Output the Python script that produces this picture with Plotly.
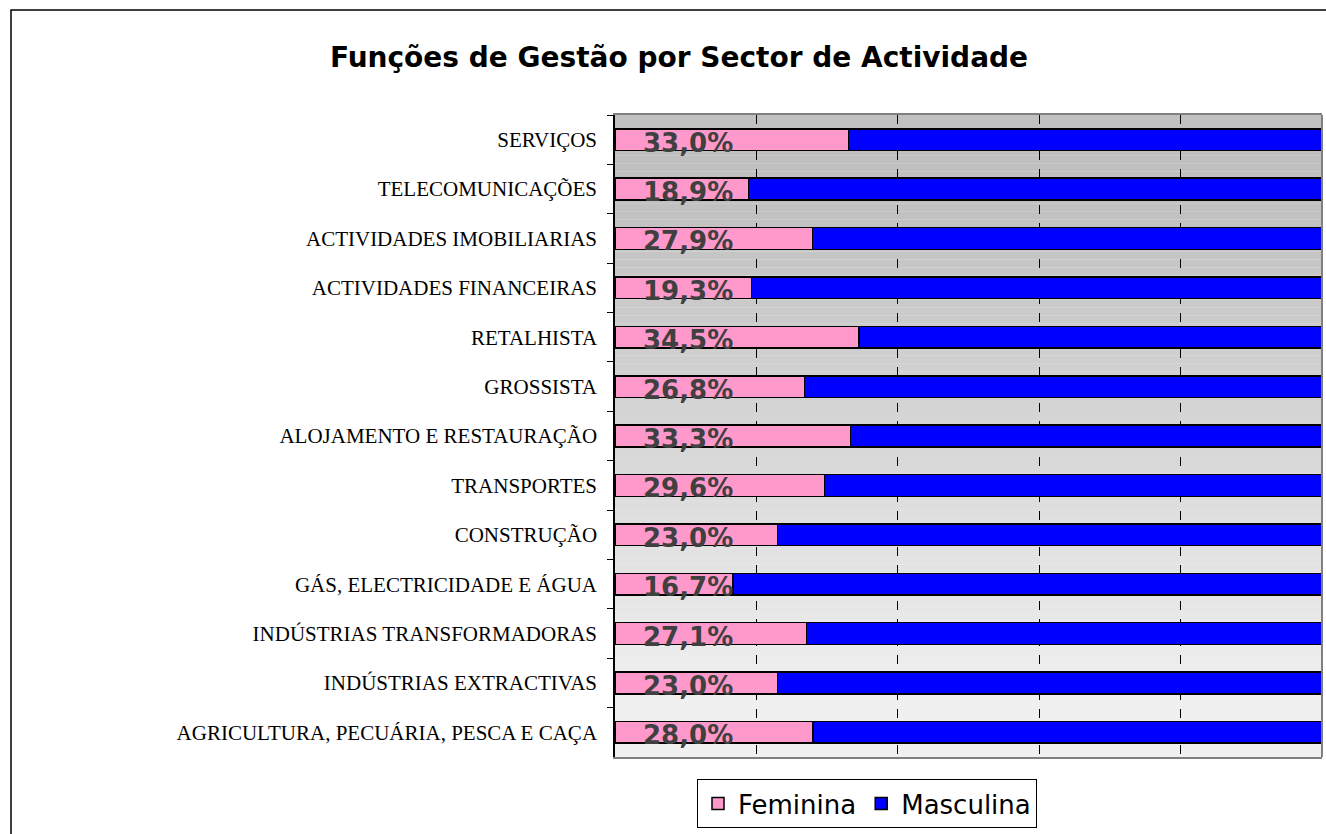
import plotly.graph_objects as go

# ---- data ----
categories = [
    "SERVIÇOS",
    "TELECOMUNICAÇÕES",
    "ACTIVIDADES IMOBILIARIAS",
    "ACTIVIDADES FINANCEIRAS",
    "RETALHISTA",
    "GROSSISTA",
    "ALOJAMENTO E RESTAURAÇÃO",
    "TRANSPORTES",
    "CONSTRUÇÃO",
    "GÁS, ELECTRICIDADE E ÁGUA",
    "INDÚSTRIAS TRANSFORMADORAS",
    "INDÚSTRIAS EXTRACTIVAS",
    "AGRICULTURA, PECUÁRIA, PESCA E CAÇA",
]
feminina = [33.0, 18.9, 27.9, 19.3, 34.5, 26.8, 33.3, 29.6, 23.0, 16.7, 27.1, 23.0, 28.0]
masculina = [67.0, 81.1, 72.1, 80.7, 65.5, 73.2, 66.7, 70.4, 77.0, 83.3, 72.9, 77.0, 72.0]
series_names = ["Feminina", "Masculina"]
title_text = "Funções de Gestão por Sector de Actividade"

# ---- layout geometry (px) ----
W, H = 1326, 834
L, R, T, B = 615, 4, 115, 77
PW, PH = W - L - R, H - T - B


def px_to_paper_x(px):
    return (px - L) / PW


def px_to_paper_y(py):
    return (H - B - py) / PH


fig = go.Figure()
fig.add_trace(go.Bar(
    y=categories, x=feminina, orientation="h", name=series_names[0],
    marker=dict(color="#FF99CC", line=dict(color="black", width=1.5)),
))
fig.add_trace(go.Bar(
    y=categories, x=masculina, orientation="h", name=series_names[1],
    marker=dict(color="#0000FF", line=dict(color="black", width=1.5)),
))

label_text = [f"{v:.1f}%".replace(".", ",") for v in feminina]
annotations = [
    dict(x=10.3, y=cat, xref="x", yref="y", text=txt, showarrow=False,
         xanchor="center", yanchor="middle", yshift=-3,
         font=dict(family="DejaVu Sans", size=26, color="#404040", weight="bold"))
    for cat, txt in zip(categories, label_text)
]

# background gradient stripes (style only)
shapes = []
N = 80
for i in range(N):
    y0p = T + PH * i / N
    y1p = T + PH * (i + 1) / N
    yc = (y0p + y1p) / 2
    if yc <= 200:
        g = 192
    elif yc >= 700:
        g = 240
    else:
        g = 192 + (240 - 192) * (yc - 200) / 500
    g = int(round(g))
    shapes.append(dict(
        type="rect", xref="paper", yref="paper",
        x0=0, x1=1, y0=px_to_paper_y(y1p), y1=px_to_paper_y(y0p),
        fillcolor=f"rgb({g},{g},{g})", line=dict(width=0), layer="below",
    ))

# plot right border
shapes.append(dict(type="line", xref="paper", yref="paper", x0=1, x1=1, y0=0, y1=1,
                   line=dict(color="#808080", width=2), layer="above"))
# outer chart frame
shapes.append(dict(type="rect", xref="paper", yref="paper",
                   x0=px_to_paper_x(11), x1=px_to_paper_x(1345),
                   y0=px_to_paper_y(850), y1=px_to_paper_y(10),
                   line=dict(color="black", width=1.5), fillcolor="rgba(0,0,0,0)",
                   layer="above"))

fig.update_layout(
    width=W, height=H,
    margin=dict(l=L, r=R, t=T, b=B, pad=0),
    barmode="stack", bargap=0.56,
    paper_bgcolor="white", plot_bgcolor="#f0f0f0",
    title=dict(text=title_text, x=679 / W, y=1 - 57 / H,
               xanchor="center", yanchor="middle",
               font=dict(family="DejaVu Sans", size=28, color="black", weight="bold")),
    xaxis=dict(range=[0, 100], dtick=20, showticklabels=False, showgrid=True,
               gridcolor="black", griddash="dash", gridwidth=1, zeroline=False,
               showline=True, linecolor="#808080", linewidth=2, mirror=True, ticks=""),
    yaxis=dict(autorange="reversed", tickson="boundaries", ticks="outside", ticklen=6,
               tickcolor="black", showline=True, linecolor="black", linewidth=1.5,
               showgrid=False, ticklabelstandoff=12,
               tickfont=dict(family="Liberation Serif", size=21, color="black")),
    legend=dict(orientation="h", x=px_to_paper_x(697), y=px_to_paper_y(779),
                xanchor="left", yanchor="top", bgcolor="white", bordercolor="black",
                borderwidth=1, font=dict(family="DejaVu Sans", size=26, color="black"),
                traceorder="normal"),
    shapes=shapes,
    annotations=annotations,
    showlegend=True,
)

fig.write_html(
    "out.html",
    config={"displayModeBar": False},
    post_script="document.body.style.margin='0';document.body.style.overflow='hidden';",
)
